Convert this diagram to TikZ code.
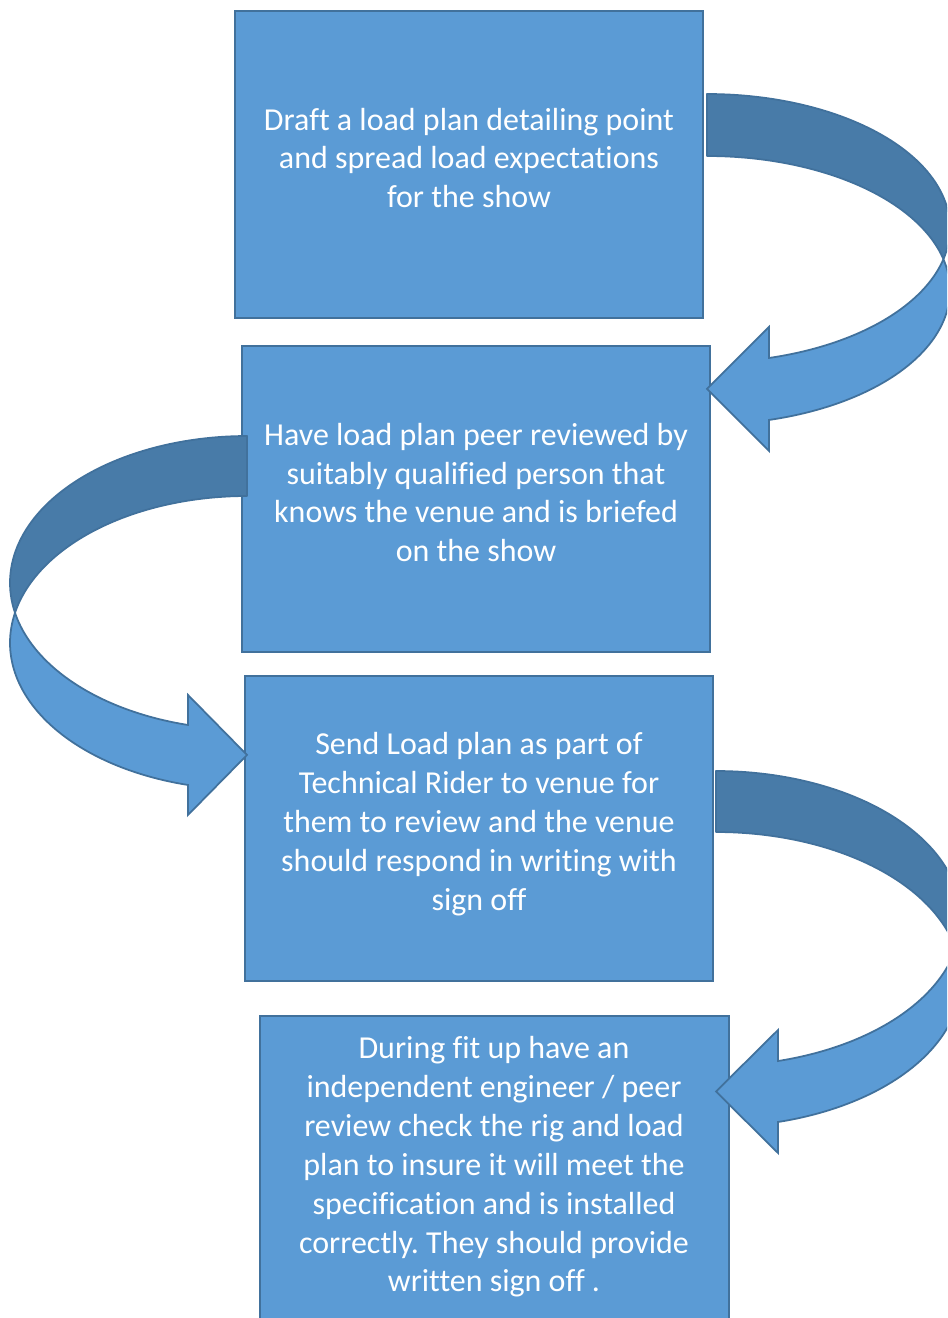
\documentclass[tikz,border=0pt]{standalone}
\usepackage{fontspec}
\setmainfont[Ligatures={NoCommon}]{Carlito}
\frenchspacing
\definecolor{boxfill}{HTML}{5B9BD5}
\definecolor{boxline}{HTML}{41719C}
\definecolor{backfill}{HTML}{487BA8}
\tikzset{
  stepbox/.style={fill=boxfill, draw=boxline, line width=1.1pt},
  steptext/.style={text=white, align=center, font=\fontsize{18.2}{22.1}\selectfont, inner sep=0pt},
  backband/.style={fill=backfill, draw=boxline, line width=1pt, line join=round},
  frontband/.style={fill=boxfill, draw=boxline, line width=1pt, line join=miter},
}
% #1 l, #2 t, #3 thickness, #4 rx, #5 ry, #6 head length, #7 head overhang, #8 direction (+1 right, -1 left)
\newcommand\cvarrow[8]{%
  \pgfmathsetmacro\cvA{#2+#5}%
  \pgfmathsetmacro\cvB{#2+#5+#3}%
  \pgfmathsetmacro\cvI{asin(#3/(2*#5))}%
  \pgfmathsetmacro\cvH{acos(#6/#4)}%
  \pgfmathsetmacro\cvYA{\cvA+#5*sin(\cvH)}%
  \pgfmathsetmacro\cvYB{\cvB+#5*sin(\cvH)}%
  \pgfmathsetmacro\cvX{#1+#8*#6}%
  \pgfmathsetmacro\cvM{(\cvYA+\cvYB)/2}%
  \pgfmathsetmacro\cvU{\cvYA-#7}%
  \pgfmathsetmacro\cvL{\cvYB+#7}%
  \filldraw[backband]
    plot[domain=-90:\cvI, samples=60, variable=\t] ({#1+#8*#4*cos(\t)},{\cvA+#5*sin(\t)})
    -- plot[domain=-\cvI:-90, samples=60, variable=\t] ({#1+#8*#4*cos(\t)},{\cvB+#5*sin(\t)})
    -- cycle;
  \filldraw[frontband]
    plot[domain=\cvI:\cvH, samples=60, variable=\t] ({#1+#8*#4*cos(\t)},{\cvA+#5*sin(\t)})
    -- (\cvX,\cvU) -- (#1,\cvM) -- (\cvX,\cvL)
    -- plot[domain=\cvH:-\cvI, samples=60, variable=\t] ({#1+#8*#4*cos(\t)},{\cvB+#5*sin(\t)})
    -- cycle;
}
\begin{document}
\begin{tikzpicture}[x=0.02cm, y=-0.02cm]
\clip (0,0) rectangle (947,1318);
\fill[white] (0,0) rectangle (947,1318);

\draw[stepbox] (235,11) rectangle (703,318);
\node[steptext] (t1) at (469,158) {Draft a load plan detailing point\\and spread load expectations\\for the show};

\draw[stepbox] (242,346) rectangle (710,652);
\node[steptext] (t2) at (476,492.5) {Have load plan peer reviewed by\\suitably qualified person that\\knows the venue and is briefed\\on the show};

\draw[stepbox] (245,676) rectangle (713,981);
\node[steptext] (t3) at (479,824) {Send Load plan as part of\\Technical Rider to venue for\\them to review and the venue\\should respond in writing with\\sign off};

\draw[stepbox] (260,1016) rectangle (729,1323);
\node[steptext] (t4) at (494,1167) {During fit up have an\\independent engineer / peer\\review check the rig and load\\plan to insure it will meet the\\specification and is installed\\correctly. They should provide\\written sign off .};

\cvarrow{707}{94}{62}{243}{134.2}{62}{31}{1}
\cvarrow{247}{436}{60}{237}{146.8}{59}{30}{-1}
\cvarrow{716}{771}{61}{245}{147.4}{62}{31}{1}
\end{tikzpicture}
\end{document}
